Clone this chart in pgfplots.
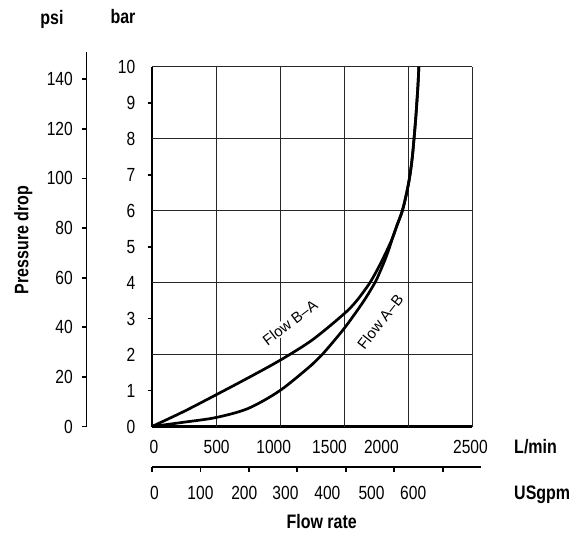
\documentclass[border=0pt]{standalone}
\usepackage{fontspec}
\setmainfont{Liberation Sans}[FakeStretch=0.82]
\newfontfamily\wide{Liberation Sans}
\usepackage{pgfplots}
\pgfplotsset{compat=1.18}
\newcommand{\tl}{\fontsize{19}{19}\selectfont}
\newcommand{\bl}{\fontsize{19.5}{19.5}\selectfont\bfseries}

\begin{document}
\begin{tikzpicture}[x=1pt,y=1pt]
\path[use as bounding box] (0,0) rectangle (588,-536);
\pgfplotsset{every axis/.append style={/pgf/number format/assume math mode=true}}

% psi axis
\begin{axis}[
  at={(86.3pt,-426.5pt)}, anchor=south west, scale only axis,
  width=20pt, height=374.8pt,
  xmin=0, xmax=1, ymin=0, ymax=151.1,
  axis y line=left, axis x line=none,
  y axis line style={-, line width=1.6pt},
  ytick={0,20,40,60,80,100,120,140}, minor ytick={0,20,40,60,80,100,120,140},
  tick align=outside, major tick length=0pt, minor tick length=4.5pt,
  minor tick style={line width=1.8pt, black},
  yticklabel style={font=\tl, anchor=east, inner sep=0pt, xshift=-13.3pt},
]
\end{axis}

% main (bar / L/min) axis
\begin{axis}[
  at={(152pt,-426.5pt)}, anchor=south west, scale only axis,
  width=320pt, height=359.8pt,
  xmin=0, xmax=2500, ymin=0, ymax=10,
  axis x line=bottom, axis y line=left,
  x axis line style={-, line width=2.7pt},
  y axis line style={-, line width=1.8pt},
  tick align=outside, major tick length=0pt, minor tick length=4.5pt,
  minor tick style={line width=1.8pt, black},
  xtick={15,505,951,1387,1792,2488},
  xticklabels={0,500,1000,1500,2000,2500},
  extra x ticks={500,1000,1500,2000,2500}, extra x tick labels={},
  extra x tick style={grid=major},
  ytick={0,1,2,3,4,5,6,7,8,9,10},
  minor ytick={1,3,5,7,9},
  extra y ticks={2,4,6,8,10}, extra y tick labels={},
  extra y tick style={grid=major},
  major grid style={black!85, line width=0.8pt},
  xticklabel style={font=\tl, anchor=center, inner sep=0pt, yshift=-20.8pt},
  yticklabel style={font=\tl, anchor=east, inner sep=0pt, xshift=-16.5pt},
]
% Flow B-A
\addplot[black, line width=2.7pt, smooth] coordinates {
 (0,0) (250,0.42) (500,0.88) (750,1.35) (1000,1.84) (1250,2.40) (1500,3.13)
 (1600,3.5) (1703,4.0) (1781,4.5) (1840,4.93) (1880,5.25)
 (1915,5.6) (1956,6) (1990,6.5) (2016,7) (2034,7.5) (2047,8) (2059,8.5)
 (2069,9) (2078,9.5) (2085,10)};
% Flow A-B
\addplot[black, line width=2.7pt, smooth] coordinates {
 (0,0) (250,0.12) (500,0.25) (750,0.5) (1000,1.0) (1250,1.72) (1330,2.0)
 (1500,2.72) (1651,3.47) (1742,4.0) (1781,4.3) (1820,4.63) (1855,4.97)
 (1880,5.25)
 (1915,5.6) (1956,6) (1990,6.5) (2016,7) (2034,7.5) (2047,8) (2059,8.5)
 (2069,9) (2078,9.5) (2085,10)};
\node[font=\wide\fontsize{15}{15}\selectfont, fill=white, inner sep=1pt, rotate=37]
  at (axis cs:1078,2.89) {Flow B–A};
\node[font=\wide\fontsize{15}{15}\selectfont, fill=white, inner sep=1pt, rotate=52]
  at (axis cs:1783,2.91) {Flow A–B};
\end{axis}

% USgpm axis
\begin{axis}[
  at={(152pt,-467pt)}, anchor=south west, scale only axis,
  width=329pt, height=10pt,
  xmin=0, xmax=679, ymin=0, ymax=1,
  axis x line=bottom, axis y line=none,
  x axis line style={-, line width=1.8pt},
  tick align=outside, major tick length=0pt, minor tick length=4.5pt,
  minor tick style={line width=1.8pt, black},
  xtick={5,100,190.5,275.5,362,453,539},
  xticklabels={0,100,200,300,400,500,600},
  minor xtick={0,100,200,300,400,500,600},
  xticklabel style={font=\tl, anchor=center, inner sep=0pt, yshift=-26.3pt},
]
\end{axis}

\node[font=\bl] at (52,-19.5) {psi};
\node[font=\bl] at (123,-16.7) {bar};
\node[font=\bl, rotate=90, anchor=base] at (28.3,-240) {Pressure drop};
\node[font=\bl, anchor=base west] at (510.7,-453.5) {L/min};
\node[font=\bl, anchor=base west] at (510.7,-499.3) {USgpm};
\node[font=\bl, anchor=base] at (321.7,-528.3) {Flow rate};
\end{tikzpicture}
\end{document}
